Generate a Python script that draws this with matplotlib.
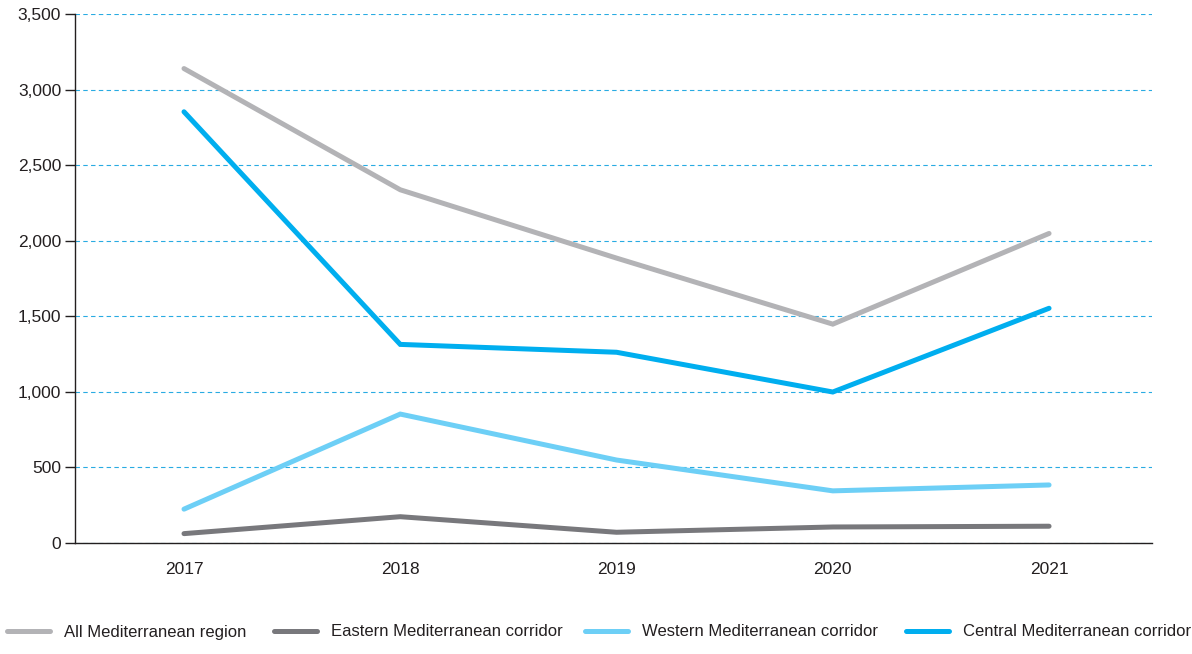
import matplotlib
matplotlib.use("Agg")
import matplotlib.pyplot as plt
from matplotlib.ticker import FuncFormatter

years = [2017, 2018, 2019, 2020, 2021]
all_med = [3139, 2337, 1885, 1448, 2048]
eastern = [62, 174, 71, 106, 111]
western = [224, 853, 549, 345, 384]
central = [2853, 1314, 1262, 999, 1553]

series = [
    ("All Mediterranean region", all_med, "#b3b3b6"),
    ("Eastern Mediterranean corridor", eastern, "#78787c"),
    ("Western Mediterranean corridor", western, "#6dcff6"),
    ("Central Mediterranean corridor", central, "#00aeef"),
]

plt.rcParams['font.family'] = ['Liberation Sans', 'DejaVu Sans']
fig = plt.figure(figsize=(11.92, 6.54), dpi=100)
ax = fig.add_axes([75/1192, 1-543/654, (1152-75)/1192, (543-14)/654])

handles = []
for label, vals, color in series:
    h, = ax.plot(range(len(years)), vals, color=color, lw=3.6, label=label,
                 solid_capstyle='round', solid_joinstyle='miter')
    handles.append(h)

ax.set_xlim(-0.504, 4.476)
ax.set_ylim(0, 3500)
ax.set_yticks(range(0, 3501, 500))
ax.yaxis.set_major_formatter(FuncFormatter(lambda v, p: f"{int(v):,}"))
ax.set_xticks(range(len(years)))
ax.set_xticklabels([str(y) for y in years])
ax.tick_params(axis='x', length=0, pad=14, labelsize=12.5, colors='#231f20')
ax.tick_params(axis='y', length=7, width=1, pad=3, labelsize=12.5, colors='#231f20')
for s in ['top', 'right']:
    ax.spines[s].set_visible(False)
for s in ['left', 'bottom']:
    ax.spines[s].set_color('#231f20')
    ax.spines[s].set_linewidth(1)
ax.yaxis.grid(True, linestyle=(0, (4, 3)), color='#29abe2', lw=0.8)
ax.set_axisbelow(True)

# legend entries placed individually to match reference spacing
legend_x = [7, 274, 585, 906]
for h, xpix in zip(handles, legend_x):
    leg = fig.legend(handles=[h], loc='center left',
                     bbox_to_anchor=(xpix/1192, 1-632/654),
                     frameon=False, fontsize=12, handlelength=2.6,
                     handletextpad=0.8, borderaxespad=0, borderpad=0,
                     labelcolor='#231f20')

fig.savefig("out.png", dpi=100)
